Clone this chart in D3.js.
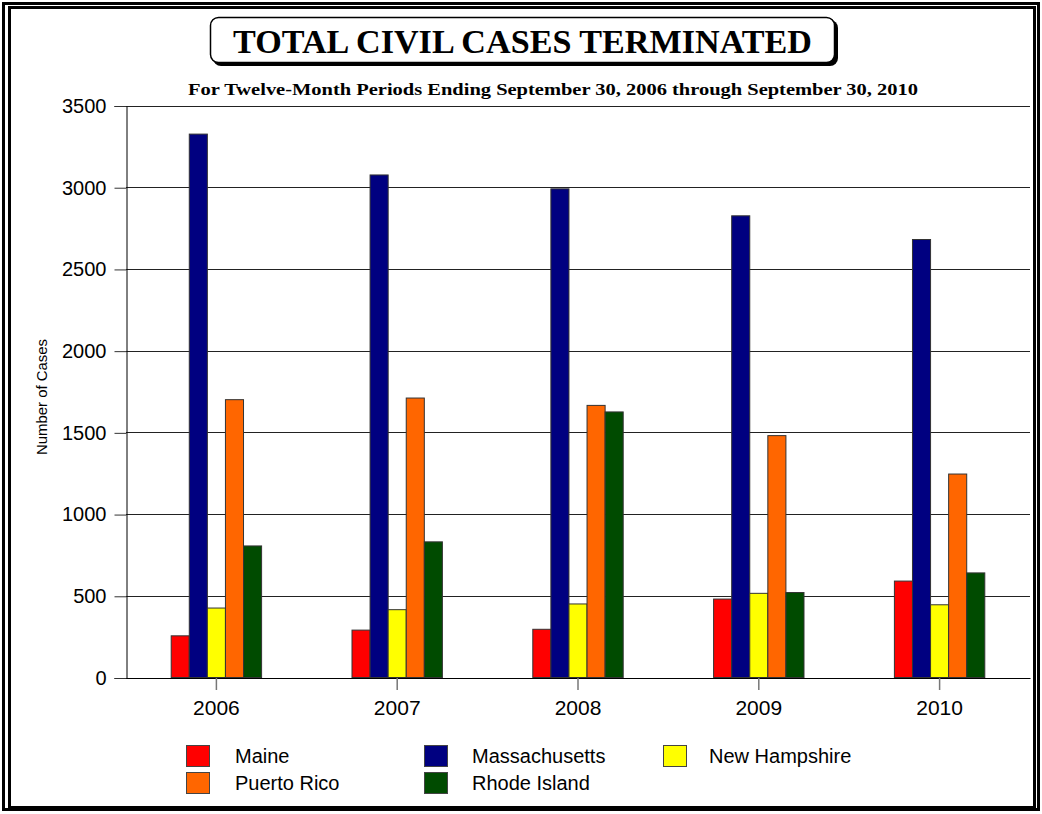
<!DOCTYPE html>
<html>
<head>
<meta charset="utf-8">
<script src="https://cdn.jsdelivr.net/npm/d3@7"></script>
<style>
  body { margin: 0; background: #fff; }
  svg text { font-family: "Liberation Sans", Arial, sans-serif; }
</style>
</head>
<body>
<svg class="chart" width="1042" height="814"></svg>
<script>
var years = ['2006', '2007', '2008', '2009', '2010'];
var districts = ['Maine', 'Massachusetts', 'New Hampshire', 'Puerto Rico', 'Rhode Island'];
var colors = ['#ff0000', '#000080', '#ffff00', '#ff6600', '#004b00'];
var maine = [255, 290, 295, 480, 590];
var massachusetts = [3325, 3075, 2990, 2825, 2680];
var newHampshire = [425, 415, 450, 515, 445];
var puertoRico = [1700, 1710, 1665, 1480, 1245];
var rhodeIsland = [805, 830, 1625, 520, 640];
var yTicks = [0, 500, 1000, 1500, 2000, 2500, 3000, 3500];

var series = [maine, massachusetts, newHampshire, puertoRico, rhodeIsland];

graphCases();

function graphCases() {
  var svg = d3.select('.chart');

  // double frame
  svg.append('rect').attr('x', 3.5).attr('y', 3.5).attr('width', 1035).attr('height', 806)
    .attr('fill', 'none').attr('stroke', '#000').attr('stroke-width', 3);
  svg.append('rect').attr('x', 9.5).attr('y', 7.5).attr('width', 1025).attr('height', 800)
    .attr('fill', 'none').attr('stroke', '#000').attr('stroke-width', 3);

  // title box with shadow
  svg.append('rect').attr('x', 213).attr('y', 20).attr('width', 625).attr('height', 46)
    .attr('rx', 8).attr('fill', '#000');
  svg.append('rect').attr('x', 210.5).attr('y', 17.5).attr('width', 624).attr('height', 45)
    .attr('rx', 8).attr('fill', '#fff').attr('stroke', '#000').attr('stroke-width', 1.5);
  svg.append('text').attr('x', 522.5).attr('y', 53)
    .attr('text-anchor', 'middle')
    .style('font-family', '"Liberation Serif", "Times New Roman", serif')
    .style('font-weight', 'bold').style('font-size', '33px')
    .attr('textLength', 579).attr('lengthAdjust', 'spacingAndGlyphs')
    .text('TOTAL CIVIL CASES TERMINATED');
  svg.append('text').attr('x', 553).attr('y', 95)
    .attr('text-anchor', 'middle')
    .style('font-family', '"Liberation Serif", "Times New Roman", serif')
    .style('font-weight', 'bold').style('font-size', '17px')
    .attr('textLength', 730).attr('lengthAdjust', 'spacingAndGlyphs')
    .text('For Twelve-Month Periods Ending September 30, 2006 through September 30, 2010');

  var left = 126, right = 1030, top = 105.5, bottom = 677.5;

  var x0 = d3.scaleBand().domain(years).range([left, right])
    .paddingInner(0.5).paddingOuter(0.25);
  var x1 = d3.scaleBand().domain(districts).range([0, x0.bandwidth()]);
  var y = d3.scaleLinear().domain([0, 3500]).range([bottom, top]);

  // gridlines
  svg.append('g').selectAll('line')
    .data(yTicks.slice(1))
    .enter().append('line')
    .attr('x1', left).attr('x2', right)
    .attr('y1', function(d) { return Math.round(y(d)) + 0.5; })
    .attr('y2', function(d) { return Math.round(y(d)) + 0.5; })
    .attr('stroke', '#222').attr('stroke-width', 1);

  // y axis
  var yAxis = svg.append('g')
    .attr('transform', 'translate(' + (left + 0.5) + ',0.5)')
    .call(d3.axisLeft(y).tickValues(yTicks).tickSize(12).tickPadding(8).tickFormat(d3.format('d')));
  yAxis.selectAll('text').style('font-size', '20px').attr('fill', '#000');
  yAxis.selectAll('line').attr('stroke', '#333');
  yAxis.select('.domain').attr('stroke', '#000');

  // bars
  var groups = svg.append('g').selectAll('g')
    .data(years)
    .enter().append('g')
    .attr('transform', function(d) { return 'translate(' + x0(d) + ',0)'; });

  groups.selectAll('rect')
    .data(function(d, i) {
      return districts.map(function(name, j) {
        return { name: name, value: series[j][i], color: colors[j] };
      });
    })
    .enter().append('rect')
    .attr('x', function(d) { return x1(d.name); })
    .attr('y', function(d) { return y(d.value); })
    .attr('width', x1.bandwidth())
    .attr('height', function(d) { return bottom - y(d.value); })
    .style('fill', function(d) { return d.color; })
    .attr('stroke', '#333').attr('stroke-width', 1);

  // x axis
  var xAxis = svg.append('g')
    .attr('transform', 'translate(0,' + (bottom + 0.5) + ')')
    .call(d3.axisBottom(x0).tickSize(12).tickPadding(10).tickSizeOuter(0));
  xAxis.selectAll('text').style('font-size', '21px').attr('fill', '#000');
  xAxis.selectAll('.tick line').attr('stroke', '#777').attr('stroke-width', 1.5);
  xAxis.select('.domain').attr('stroke', '#000');

  // y axis label
  svg.append('text')
    .attr('transform', 'translate(47,397) rotate(-90)')
    .attr('text-anchor', 'middle')
    .style('font-size', '14px')
    .attr('textLength', 116).attr('lengthAdjust', 'spacingAndGlyphs')
    .text('Number of Cases');

  // legend
  var legendPos = [[186, 745], [424, 745], [663, 745], [186, 772], [424, 772]];
  var labelX = [235, 472, 709, 235, 472];
  var legend = svg.append('g').selectAll('g')
    .data(districts)
    .enter().append('g');
  legend.append('rect')
    .attr('x', function(d, i) { return legendPos[i][0] + 0.5; })
    .attr('y', function(d, i) { return legendPos[i][1] + 0.5; })
    .attr('width', 23).attr('height', 21)
    .style('fill', function(d, i) { return colors[i]; })
    .attr('stroke', '#444').attr('stroke-width', 1);
  legend.append('text')
    .attr('x', function(d, i) { return labelX[i]; })
    .attr('y', function(d, i) { return legendPos[i][1] + 18; })
    .style('font-size', '20px')
    .text(function(d) { return d; });
}
</script>
</body>
</html>
